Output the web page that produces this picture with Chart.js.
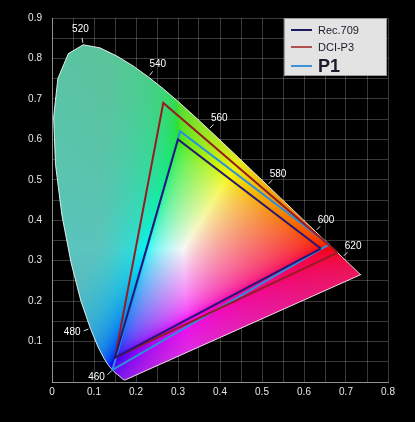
<!DOCTYPE html>
<html>
<head>
<meta charset="utf-8">
<script src="https://cdn.jsdelivr.net/npm/chart.js@4.4.1/dist/chart.umd.min.js"></script>
<style>
  html, body { margin: 0; padding: 0; background: #000; }
  #wrap { position: relative; width: 415px; height: 422px; }
  #legend {
    position: absolute; left: 284px; top: 18px; width: 103px; height: 58px;
    background: #e3e3e3; border: 1px solid #9a9a9a; box-sizing: border-box;
    font-family: "Liberation Sans", Arial, sans-serif; color: #1b1b2a;
  }
  #legend .row { position: absolute; left: 6px; display: flex; align-items: center; }
  #legend .swatch { width: 21px; height: 2px; margin-right: 6px; }
</style>
</head>
<body>
<div id="wrap">
  <canvas id="chart" width="415" height="422"></canvas>
  <div id="legend"></div>
</div>
<script>
// CIE 1931 spectral locus (nm, x, y)
const wavelengths = [380, 400, 420, 430, 440, 445, 450, 455, 460, 465, 470, 475, 480, 485, 490, 495, 500, 505, 510, 515, 520, 525, 530, 535, 540, 545, 550, 555, 560, 565, 570, 575, 580, 585, 590, 595, 600, 605, 610, 615, 620, 625, 630, 640, 650, 660, 680, 700];
const locusX = [0.1741, 0.1733, 0.1714, 0.1689, 0.1644, 0.1611, 0.1566, 0.1510, 0.1440, 0.1355, 0.1241, 0.1096, 0.0913, 0.0687, 0.0454, 0.0235, 0.0082, 0.0039, 0.0139, 0.0389, 0.0743, 0.1142, 0.1547, 0.1929, 0.2296, 0.2658, 0.3016, 0.3373, 0.3731, 0.4087, 0.4441, 0.4788, 0.5125, 0.5448, 0.5752, 0.6029, 0.6270, 0.6482, 0.6658, 0.6801, 0.6915, 0.7006, 0.7079, 0.7190, 0.7260, 0.7300, 0.7334, 0.7347];
const locusY = [0.0050, 0.0048, 0.0051, 0.0069, 0.0109, 0.0138, 0.0177, 0.0227, 0.0297, 0.0399, 0.0578, 0.0868, 0.1327, 0.2007, 0.2950, 0.4127, 0.5384, 0.6548, 0.7502, 0.8120, 0.8338, 0.8262, 0.8059, 0.7816, 0.7543, 0.7243, 0.6923, 0.6589, 0.6245, 0.5896, 0.5547, 0.5202, 0.4866, 0.4544, 0.4242, 0.3965, 0.3725, 0.3514, 0.3340, 0.3197, 0.3083, 0.2993, 0.2920, 0.2809, 0.2740, 0.2700, 0.2666, 0.2653];
const markedWavelengths = [460, 480, 520, 540, 560, 580, 600, 620];

// gamut triangles (R, G, B)
const seriesNames = ['Rec.709', 'DCI-P3', 'P1'];
const rec709X = [0.64, 0.30, 0.15];
const rec709Y = [0.33, 0.60, 0.06];
const dciP3X = [0.68, 0.265, 0.15];
const dciP3Y = [0.32, 0.69, 0.06];
const p1X = [0.66, 0.305, 0.144];
const p1Y = [0.34, 0.62, 0.030];

const xTicks = [0, 0.1, 0.2, 0.3, 0.4, 0.5, 0.6, 0.7, 0.8];
const yTicks = [0.1, 0.2, 0.3, 0.4, 0.5, 0.6, 0.7, 0.8, 0.9];

function toPoints(xs, ys, close) {
  const pts = xs.map((x, i) => ({ x: x, y: ys[i] }));
  if (close) pts.push({ x: xs[0], y: ys[0] });
  return pts;
}

function gammaEncode(c) {
  return c <= 0.0031308 ? 12.92 * c : 1.055 * Math.pow(c, 1 / 2.4) - 0.055;
}

// xy -> display colour; far out-of-gamut colours and greens get muted like the original
const muteTone = [150, 170, 160];
function xyToRgb(x, y) {
  const X = x / y, Y = 1, Z = (1 - x - y) / y;
  let r = 3.2406 * X - 1.5372 * Y - 0.4986 * Z;
  let g = -0.9689 * X + 1.8758 * Y + 0.0415 * Z;
  let b = 0.0557 * X - 0.2040 * Y + 1.0570 * Z;
  const m = Math.min(r, g, b);
  let f = 0;
  if (m < 0) {
    f = -m / (Math.max(r, g, b) - m);
    r -= m; g -= m; b -= m;
  }
  const M = Math.max(r, g, b);
  const c = [r / M, g / M, b / M].map(gammaEncode);
  const green = Math.max(0, c[1] - c[0]) * Math.max(0, c[1] - c[2]);
  const mix = Math.min(0.62, 0.25 * green + 1.4 * f);
  return c.map((v, i) => Math.round((v * 255 * (1 - mix) + muteTone[i] * mix) * 0.97));
}

let fillPattern = null;
let patternKey = '';
function cieFill(context) {
  const chart = context.chart;
  const area = chart.chartArea;
  if (!area || !chart.scales.x) return 'rgba(0,0,0,0)';
  const key = [chart.width, chart.height, area.left, area.top, area.right, area.bottom].join(',');
  if (fillPattern && key === patternKey) return fillPattern;
  const xs = chart.scales.x, ys = chart.scales.y;
  const off = document.createElement('canvas');
  off.width = chart.width;
  off.height = chart.height;
  const octx = off.getContext('2d');
  const img = octx.createImageData(off.width, off.height);
  for (let py = Math.floor(area.top); py < Math.ceil(area.bottom); py++) {
    const y = ys.getValueForPixel(py + 0.5);
    if (y <= 0.002) continue;
    for (let px = Math.floor(area.left); px < Math.ceil(area.right); px++) {
      const x = xs.getValueForPixel(px + 0.5);
      if (x < 0 || x + y > 1) continue;
      const c = xyToRgb(x, y);
      const k = (py * off.width + px) * 4;
      img.data[k] = c[0];
      img.data[k + 1] = c[1];
      img.data[k + 2] = c[2];
      img.data[k + 3] = 255;
    }
  }
  octx.putImageData(img, 0, 0);
  fillPattern = chart.ctx.createPattern(off, 'no-repeat');
  patternKey = key;
  return fillPattern;
}

const wavelengthLabels = {
  id: 'wavelengthLabels',
  afterDatasetsDraw(chart) {
    const xs = chart.scales.x, ys = chart.scales.y, ctx = chart.ctx;
    const cx = xs.getPixelForValue(0.3333), cy = ys.getPixelForValue(0.3333);
    ctx.save();
    ctx.strokeStyle = 'rgba(255,255,255,0.85)';
    ctx.fillStyle = '#ffffff';
    ctx.lineWidth = 1;
    ctx.font = '10px "Liberation Sans", Arial, sans-serif';
    ctx.textBaseline = 'middle';
    markedWavelengths.forEach(w => {
      const i = wavelengths.indexOf(w);
      const px = xs.getPixelForValue(locusX[i]), py = ys.getPixelForValue(locusY[i]);
      const tx = xs.getPixelForValue(locusX[i + 1]) - xs.getPixelForValue(locusX[i - 1]);
      const ty = ys.getPixelForValue(locusY[i + 1]) - ys.getPixelForValue(locusY[i - 1]);
      const len = Math.hypot(tx, ty);
      let nx = ty / len, ny = -tx / len;
      if ((px - cx) * nx + (py - cy) * ny < 0) { nx = -nx; ny = -ny; }
      ctx.beginPath();
      ctx.moveTo(px + nx * 2, py + ny * 2);
      ctx.lineTo(px + nx * 7, py + ny * 7);
      ctx.stroke();
      if (nx < -0.3) {
        ctx.textAlign = 'right';
        ctx.fillText(String(w), px + nx * 10.5, py + ny * 10.5);
      } else {
        ctx.textAlign = 'center';
        ctx.fillText(String(w), px + nx * 15.5, py + ny * 15.5);
      }
    });
    ctx.restore();
  }
};

const triangleColors = ['rgb(38, 22, 118)', 'rgb(150, 28, 34)', 'rgb(44, 142, 222)'];
const legendColors = ['rgb(30, 26, 96)', 'rgb(176, 80, 80)', 'rgb(60, 145, 216)'];

const ctx = document.getElementById('chart').getContext('2d');
const chart = new Chart(ctx, {
  type: 'line',
  data: {
    datasets: [
      {
        label: 'locus',
        data: toPoints(locusX, locusY, true),
        borderColor: 'rgba(255,255,255,0.85)',
        borderWidth: 1,
        backgroundColor: cieFill,
        fill: 'shape',
        pointRadius: 0,
        tension: 0,
        order: 1
      },
      { label: seriesNames[0], data: toPoints(rec709X, rec709Y, true), borderColor: triangleColors[0], borderWidth: 2, pointRadius: 0, fill: false, order: 0 },
      { label: seriesNames[1], data: toPoints(dciP3X, dciP3Y, true), borderColor: triangleColors[1], borderWidth: 2, pointRadius: 0, fill: false, order: 0 },
      { label: seriesNames[2], data: toPoints(p1X, p1Y, true), borderColor: triangleColors[2], borderWidth: 2, pointRadius: 0, fill: false, order: 0 }
    ]
  },
  options: {
    responsive: false,
    animation: false,
    events: [],
    layout: { padding: { top: 18, right: 27, left: 0, bottom: 0 } },
    plugins: {
      legend: { display: false },
      tooltip: { enabled: false }
    },
    scales: {
      x: {
        type: 'linear',
        min: 0,
        max: 0.8,
        z: 1,
        afterFit(scale) { scale.height = 40; },
        grid: { color: 'rgba(255,255,255,0.22)', drawTicks: false },
        border: { color: 'rgba(255,255,255,0.45)' },
        ticks: {
          stepSize: 0.05,
          padding: 4,
          color: '#e6e6e6',
          font: { family: '"Liberation Sans", Arial, sans-serif', size: 10 },
          callback: v => {
            const t = xTicks.find(k => Math.abs(k - v) < 1e-6);
            return t === undefined ? '' : String(t);
          }
        }
      },
      y: {
        type: 'linear',
        min: 0,
        max: 0.9,
        z: 1,
        afterFit(scale) { scale.width = 52; },
        grid: { color: 'rgba(255,255,255,0.22)', drawTicks: false },
        border: { color: 'rgba(255,255,255,0.45)' },
        ticks: {
          stepSize: 0.05,
          padding: 10,
          color: '#e6e6e6',
          font: { family: '"Liberation Sans", Arial, sans-serif', size: 10 },
          callback: v => {
            const t = yTicks.find(k => Math.abs(k - v) < 1e-6);
            return t === undefined ? '' : String(t);
          }
        }
      }
    }
  },
  plugins: [wavelengthLabels]
});

// html legend from the triangle datasets
const legendEl = document.getElementById('legend');
const rowTops = [4, 21, 37];
const rowFonts = ['11px', '11px', 'bold 18px'];
chart.data.datasets.slice(1).forEach((ds, i) => {
  const row = document.createElement('div');
  row.className = 'row';
  row.style.top = rowTops[i] + 'px';
  row.style.height = (i === 2 ? 20 : 14) + 'px';
  const sw = document.createElement('span');
  sw.className = 'swatch';
  sw.style.background = legendColors[i];
  const tx = document.createElement('span');
  tx.textContent = ds.label;
  tx.style.font = rowFonts[i] + ' "Liberation Sans", Arial, sans-serif';
  row.appendChild(sw);
  row.appendChild(tx);
  legendEl.appendChild(row);
});
</script>
</body>
</html>
